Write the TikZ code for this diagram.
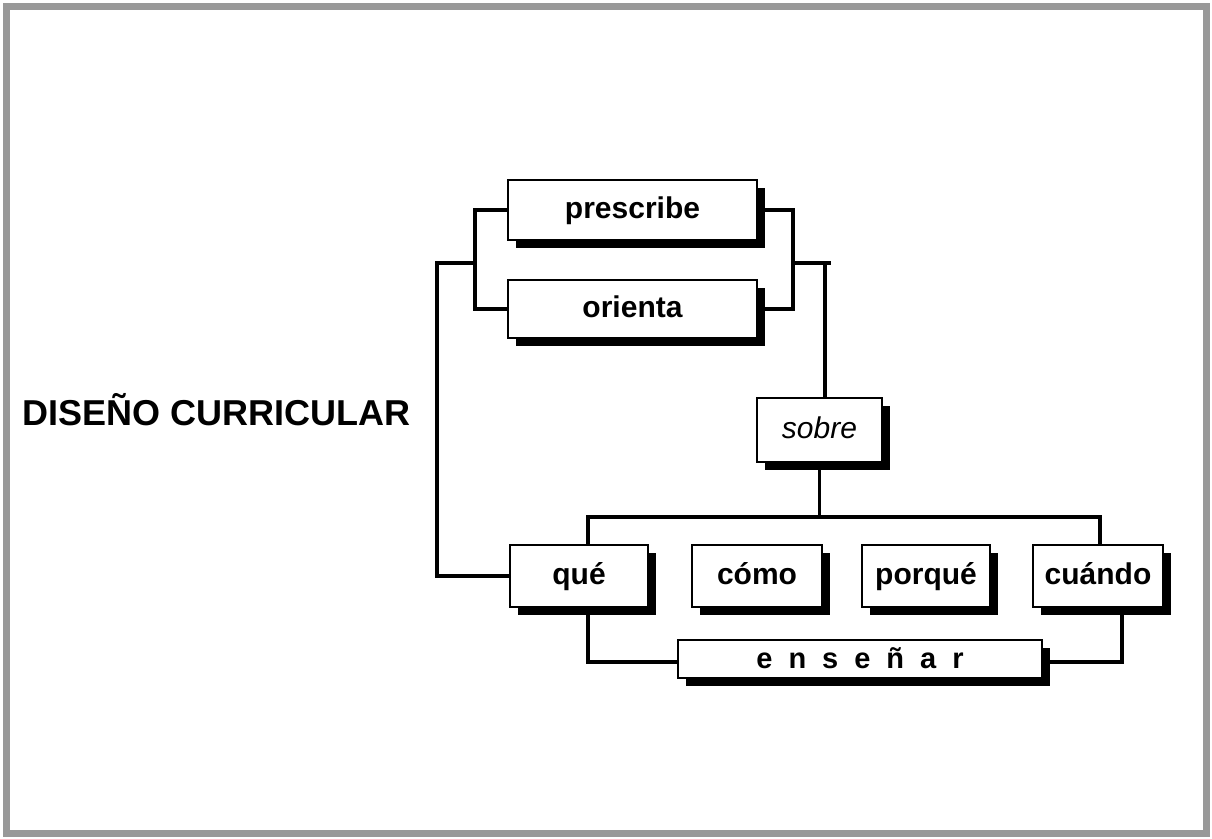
\documentclass[tikz,border=0pt]{standalone}
\usepackage{fontspec}
\setmainfont{Liberation Sans}
\usetikzlibrary{shadows,backgrounds}
\begin{document}
\begin{tikzpicture}[x=1pt,y=-1pt,
  box/.style={draw, line width=2pt, fill=white, inner sep=0pt,
    text height=22pt, text depth=6pt,
    font=\fontsize{30}{30}\selectfont\bfseries,
    drop shadow={shadow xshift=8pt, shadow yshift=-8pt, fill=black, opacity=1}},
  conn/.style={line width=3.8pt},
  frame/.style={line width=7pt, black!40}]
\useasboundingbox (0,0) rectangle (1212,838);
\draw[frame] (6,6) rectangle (1206,833);

\node[anchor=base west, inner sep=0pt, font=\fontsize{36}{36}\selectfont\bfseries] (title) at (22,425) {DISEÑO CURRICULAR};

\node[box, minimum width=249pt, minimum height=60pt] (prescribe) at (632.5,210) {prescribe};
\node[box, minimum width=249pt, minimum height=58pt] (orienta) at (632.5,309) {orienta};
\node[box, minimum width=125pt, minimum height=64pt, font=\fontsize{30}{30}\selectfont\itshape] (sobre) at (819.5,430) {sobre};
\node[box, minimum width=138pt, minimum height=62pt] (que) at (579,576) {qué};
\node[box, minimum width=130pt, minimum height=62pt] (como) at (757,576) {cómo};
\node[box, minimum width=128pt, minimum height=62pt] (porque) at (926,576) {porqué};
\node[box, minimum width=130pt, minimum height=62pt] (cuando) at (1098,576) {cuándo};
\node[box, minimum width=364pt, minimum height=38pt, text height=20pt, text depth=2pt, font=\fontsize{29}{29}\selectfont\bfseries] (ensenar) at (860,659) {e\kern16pt n\kern16pt s\kern16pt e\kern16pt ñ\kern16pt a\kern16pt r};

\coordinate (L) at (475,263);
\coordinate (LL) at (437,263);
\coordinate (R) at (793,263);
\coordinate (RR) at (831,263);
\coordinate (RS) at (825,263);
\coordinate (qa) at (588,517);
\coordinate (ca) at (1100,517);
\coordinate (sb) at (819.5,517);
\coordinate (eb) at (1122,662);
\coordinate (qb) at (588,662);

\begin{scope}[on background layer]
\draw[conn] (prescribe.west) -| (L) |- (orienta.west);
\draw[conn] (L) -- (LL) |- (que.west);
\draw[conn] (prescribe.east) -| (R) |- (orienta.east);
\draw[conn] (R) -- (RR);
\draw[conn] (RS) -- (RS |- sobre.north);
\draw[conn] (sobre.south) -- (sb);
\draw[conn] (qa |- que.north) -- (qa) -- (ca) -- (ca |- cuando.north);
\draw[conn] (qa |- que.south) -- (qb) -- (qb -| ensenar.west);
\draw[conn] (ensenar.east |- eb) -- (eb) -- (eb |- cuando.south);
\end{scope}
\end{tikzpicture}
\end{document}
